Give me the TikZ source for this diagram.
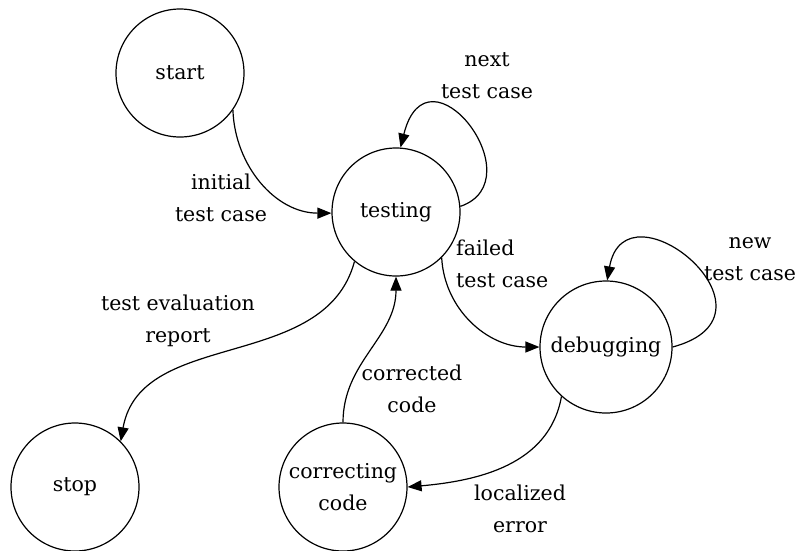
\documentclass[tikz,border=0pt]{standalone}
\usepackage{fontspec}
\setmainfont{DejaVu Serif}
\usetikzlibrary{arrows.meta}
\begin{document}
\begin{tikzpicture}[x=1pt,y=1pt,
  state/.style={draw, circle, minimum size=128pt, inner sep=0pt, line width=1.2pt,
    font=\fontsize{20.5}{32}\selectfont, align=center},
  lbl/.style={inner sep=0pt, font=\fontsize{20.5}{32}\selectfont},
  edge/.style={draw, line width=1.2pt, -{Triangle[length=14pt,width=11pt]}}]
\useasboundingbox[fill=white] (0,0) rectangle (799,-550);
\node[state] (start) at (180,-73) {start};
\node[state] (testing) at (396,-212) {testing};
\node[state, minimum size=132pt] (debugging) at (606,-347) {debugging};
\node[state] (stop) at (75,-487) {stop};
\node[state] (correcting) at (343,-487) {correcting\\code};
% connectors
\draw[edge] (start.-35) to[out=-88,in=180] (testing.181);
\draw[edge] (testing.5) to[out=19,in=76,out distance=80pt,in distance=112pt] (testing.86);
\draw[edge] (testing.-45) to[out=-87,in=180] (debugging.180);
\draw[edge] (debugging.0) to[out=15,in=80,out distance=125pt,in distance=105pt] (debugging.89);
\draw[edge] (testing.-130) to[out=-105,in=80] (stop.45);
\draw[edge] (correcting.90) to[out=90,in=-90] (testing.270);
\draw[edge] (debugging.-132) to[out=-100,in=5] (correcting.0);
% labels
\node[lbl, align=center] (l1) at (221,-198) {initial\\test case};
\node[lbl, align=center] (l2) at (487,-76) {next\\test case};
\node[lbl, align=left, anchor=west] (l3) at (456,-264) {failed\\test case};
\node[lbl, align=center] (l4) at (750,-259) {new\\test case};
\node[lbl, align=center] (l5) at (178,-321) {test evaluation\\report};
\node[lbl, align=center] (l6) at (412,-389) {corrected\\code};
\node[lbl, align=center] (l7) at (520,-509) {localized\\error};
\end{tikzpicture}
\end{document}
